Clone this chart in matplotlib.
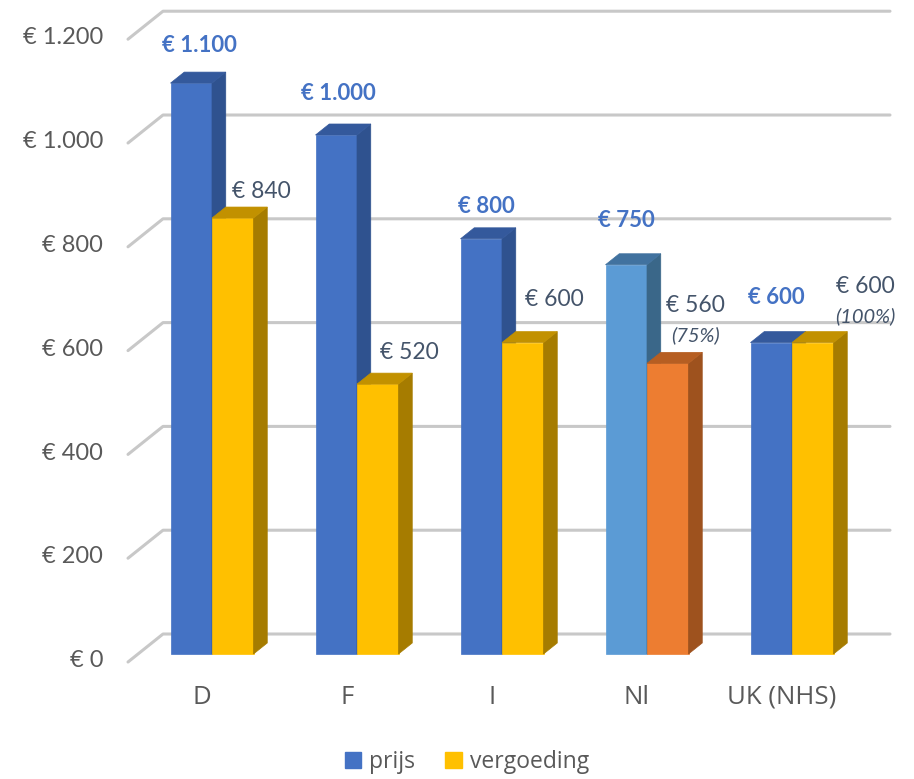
import matplotlib
matplotlib.use("Agg")
import matplotlib.pyplot as plt
from matplotlib.patches import Polygon, Patch

# ---- data -------------------------------------------------------------
categories = ["D", "F", "I", "Nl", "UK (NHS)"]
prijs = [1100, 1000, 800, 750, 600]
vergoeding = [840, 520, 600, 560, 600]
vergoeding_pct = ["", "", "", "(75%)", "(100%)"]
prijs_labels = ["€ 1.100", "€ 1.000", "€ 800", "€ 750", "€ 600"]
vergoeding_labels = ["€ 840", "€ 520", "€ 600", "€ 560", "€ 600"]
tick_values = [0, 200, 400, 600, 800, 1000, 1200]
tick_labels = ["€ 0", "€ 200", "€ 400", "€ 600", "€ 800", "€ 1.000", "€ 1.200"]
series_names = ["prijs", "vergoeding"]

# ---- styling ------------------------------------------------------------
BLUE = ("#4472C4", "#2F528F", "#34599C")        # front, side, top
GOLD = ("#FFC000", "#A67C00", "#C29100")
LBLUE = ("#5B9BD5", "#3A6789", "#41729F")
ORANGE = ("#ED7D31", "#9E521E", "#B65E22")
GRID = "#C8C8C8"
TXT = "#595959"
LBL = "#44546A"

W, H = 914, 779
fig = plt.figure(figsize=(W / 100, H / 100), dpi=100)
ax = fig.add_axes([0, 0, 1, 1])
ax.set_axis_off()

# pixel geometry of the plot (category spacing 145 px, 0.519 px per euro)
PX_X, PX_Y = 145.0, 0.519
ax.set_xlim(-212 / PX_X, (W - 212) / PX_X)
ax.set_ylim(-(H - 654) / PX_Y, 654 / PX_Y)

# depth vector of the floor (35 px right, 28 px up)
DX, DY = 35 / PX_X, 28 / PX_Y
front = (-0.286 * DX, -0.286 * DY)
bdx, bdy = 0.393 * DX, 0.393 * DY
bw = 41.5 / PX_X
x_left_front = -84 / PX_X
x_right = 678 / PX_X
PT = 0.72

# gridlines: short diagonal on the floor side + line along the back wall
for v, tl in zip(tick_values, tick_labels):
    y0 = v + front[1]
    ax.plot([x_left_front, x_left_front + DX, x_right],
            [y0, y0 + DY, y0 + DY], color=GRID, lw=2.2,
            solid_capstyle="round", zorder=1)
    ax.annotate(tl, (x_left_front, y0),
                xytext=(-25 * PT, 1), textcoords="offset points",
                ha="right", va="center", fontsize=17, color=TXT,
                family="Lato")


def bar3d(x0, h, colors, z):
    x1 = x0 + bw
    f, s, t = colors
    ax.add_patch(Polygon([(x0, 0), (x1, 0), (x1, h), (x0, h)],
                         closed=True, fc=f, ec=f, lw=0.5, zorder=z))
    ax.add_patch(Polygon([(x1, 0), (x1 + bdx, bdy), (x1 + bdx, h + bdy), (x1, h)],
                         closed=True, fc=s, ec=s, lw=0.5, zorder=z))
    ax.add_patch(Polygon([(x0, h), (x1, h), (x1 + bdx, h + bdy), (x0 + bdx, h + bdy)],
                         closed=True, fc=t, ec=t, lw=0.5, zorder=z))


# label offsets in pixels relative to the front-top centre of each bar
prijs_off = [(8, 38), (2, 42), (5, 32), (0, 44), (5, 45)]
verg_off = [(29, 27), (32, 32), (32, 43), (28, 58), (53, 56)]
pct_off = [(0, 0), (0, 0), (0, 0), (28, 28), (53, 26)]

for i, cat in enumerate(categories):
    pc = LBLUE if cat == "Nl" else BLUE
    vc = ORANGE if cat == "Nl" else GOLD
    bar3d(i - bw, prijs[i], pc, 3)
    bar3d(i, vergoeding[i], vc, 4)

    ox, oy = prijs_off[i]
    ax.annotate(prijs_labels[i], (i - bw / 2, prijs[i]),
                xytext=(ox * PT, oy * PT), textcoords="offset points",
                ha="center", va="center", fontsize=16, fontweight="bold",
                color="#4472C4", family="Lato", zorder=6)
    ox, oy = verg_off[i]
    ax.annotate(vergoeding_labels[i], (i + bw / 2, vergoeding[i]),
                xytext=(ox * PT, oy * PT), textcoords="offset points",
                ha="center", va="center", fontsize=16.5,
                color=LBL, family="Lato", zorder=6)
    if vergoeding_pct[i]:
        ox, oy = pct_off[i]
        ax.annotate(vergoeding_pct[i], (i + bw / 2, vergoeding[i]),
                    xytext=(ox * PT, oy * PT), textcoords="offset points",
                    ha="center", va="center", fontsize=14.5, style="italic",
                    color=LBL, family="Lato", zorder=6)

    ax.annotate(cat, (i + front[0], front[1]),
                xytext=(0, -35 * PT), textcoords="offset points",
                ha="center", va="center", fontsize=18.5, color=TXT,
                family="Open Sans")

handles = [Patch(fc=BLUE[0], ec=BLUE[0]), Patch(fc=GOLD[0], ec=GOLD[0])]
fig.legend(handles, series_names, loc="center", bbox_to_anchor=(467 / W, 1 - 762 / H),
           ncol=2, frameon=False, handlelength=0.72, handleheight=0.72,
           handletextpad=0.35, columnspacing=1.3,
           prop={"family": "Open Sans", "size": 16.5}, labelcolor=TXT)

fig.savefig("out.png", dpi=100)
